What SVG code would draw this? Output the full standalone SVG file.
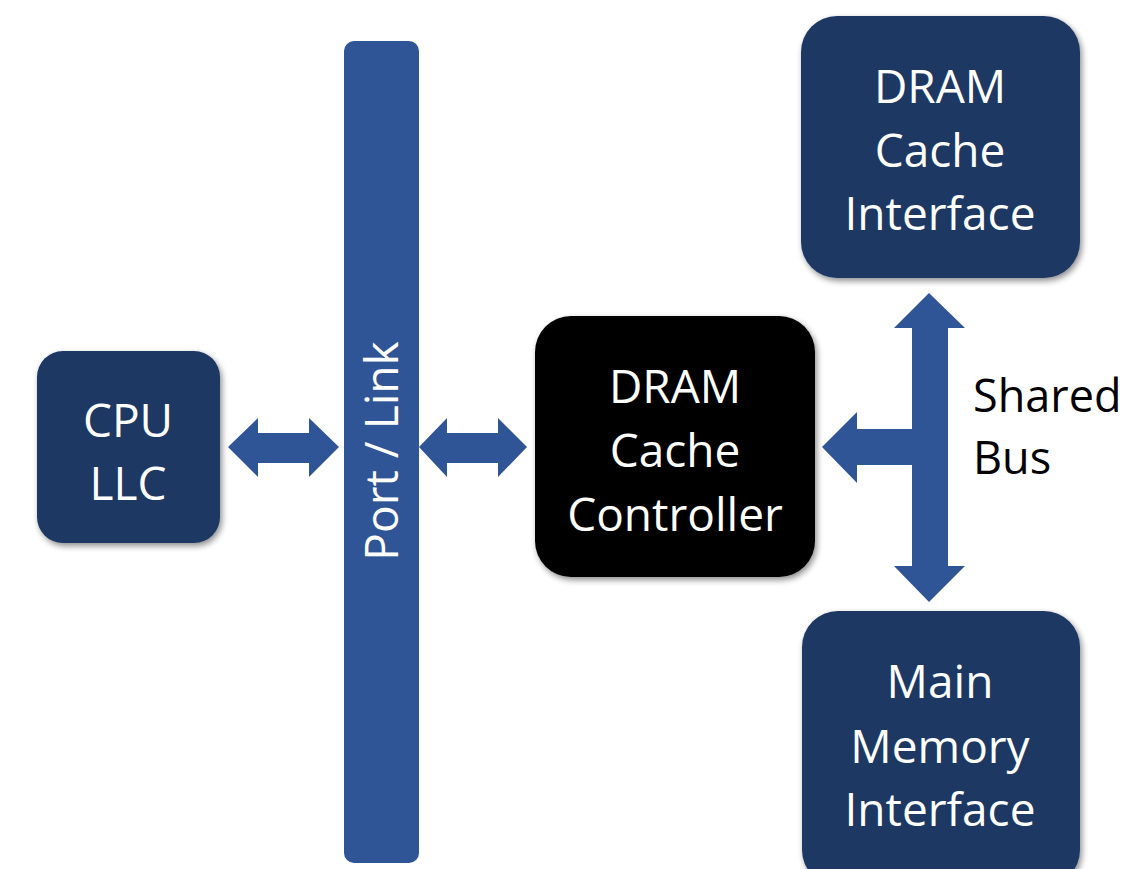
<svg xmlns="http://www.w3.org/2000/svg" width="1122" height="869" viewBox="0 0 1122 869">
<defs>
<filter id="sh" x="-10%" y="-10%" width="125%" height="125%">
<feGaussianBlur in="SourceAlpha" stdDeviation="3"/>
<feOffset dx="2" dy="3" result="b"/>
<feComponentTransfer><feFuncA type="linear" slope="0.45"/></feComponentTransfer>
<feMerge><feMergeNode/><feMergeNode in="SourceGraphic"/></feMerge>
</filter>
</defs>
<style>
.box{fill:#1F3864;filter:url(#sh)}
.ctl{fill:#000000;filter:url(#sh)}
.bar{fill:#2F5597}
.arr{fill:#2F5597}
.t{font-family:"Open Sans","Noto Sans",sans-serif;font-size:46px;fill:#ffffff;text-anchor:middle}
.k{font-family:"Open Sans","Noto Sans",sans-serif;font-size:45px;fill:#000000}
</style>
<rect width="1122" height="869" fill="#ffffff"/>
<g id="port-link">
<rect class="bar" x="344" y="41" width="75" height="822" rx="10"/>
<text class="t" transform="translate(398,451) rotate(-90)">Port / Link</text>
</g>
<g id="cpu-llc">
<rect class="box" x="37" y="351" width="183" height="192" rx="26"/>
<text class="t" x="128" y="437">CPU</text>
<text class="t" x="128" y="500">LLC</text>
</g>
<g id="dram-cache-controller">
<rect class="ctl" x="535" y="316" width="280" height="261" rx="36"/>
<text class="t" x="675" y="403">DRAM</text>
<text class="t" x="675" y="467">Cache</text>
<text class="t" x="675" y="531">Controller</text>
</g>
<g id="dram-cache-interface">
<rect class="box" x="801" y="16" width="279" height="262" rx="36"/>
<text class="t" x="940" y="103">DRAM</text>
<text class="t" x="940" y="167">Cache</text>
<text class="t" x="940" y="230">Interface</text>
</g>
<g id="main-memory-interface">
<rect class="box" x="802" y="611" width="278" height="275" rx="36"/>
<text class="t" x="940" y="698">Main</text>
<text class="t" x="940" y="763">Memory</text>
<text class="t" x="940" y="826">Interface</text>
</g>
<g id="shared-bus-label">
<text class="k" x="973" y="412">Shared</text>
<text class="k" x="973" y="474">Bus</text>
</g>
<g id="connectors">
<polygon class="arr" points="228,447 258,418 258,433 309,433 309,418 339,447 309,477 309,463 258,463 258,477"/>
<polygon class="arr" points="419,447 447,418 447,433 498,433 498,418 527,447 498,477 498,463 447,463 447,477"/>
<polygon class="arr" points="929,293 965,328 948,328 948,566 965,566 929,602 894,566 912,566 912,465 857,465 857,483 822,447 857,412 857,429 912,429 912,328 894,328"/>
</g>
</svg>
